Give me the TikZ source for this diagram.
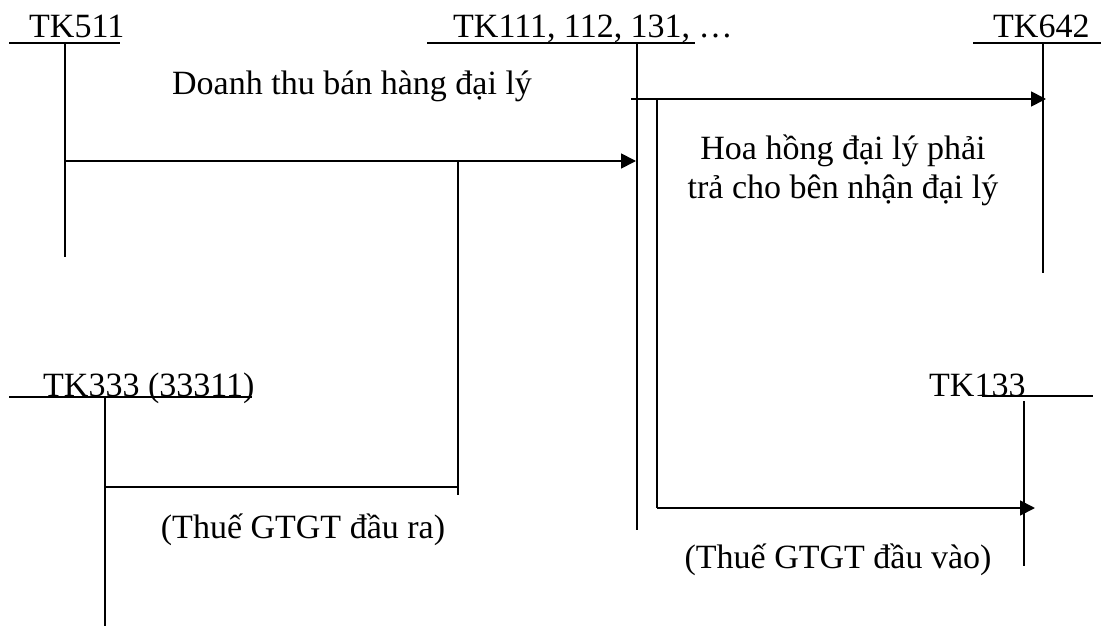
\documentclass[tikz,border=0pt]{standalone}
\usepackage{fontspec}
\setmainfont{Liberation Serif}
\usetikzlibrary{arrows.meta}
\begin{document}
\begin{tikzpicture}[x=1pt,y=-1pt,
  acct/.style={line width=1.8pt},
  flow/.style={line width=1.8pt},
  tipflow/.style={line width=1.8pt,-{Triangle[length=15pt,width=15pt]}},
  lbl/.style={inner sep=0pt,anchor=base west,font=\fontsize{34pt}{39pt}\selectfont},
  lblc/.style={inner sep=0pt,anchor=base,font=\fontsize{34pt}{39pt}\selectfont,align=center}]
\useasboundingbox (0,0) rectangle (1101,626);

% account headings
\node[lbl] (t511) at (29,38) {TK511};
\node[lbl] (t111) at (453,38) {TK111, 112, 131, …};
\node[lbl] (t642) at (993,38) {TK642};
\node[lbl] (t333) at (43,396) {TK333 (33311)};
\node[lbl] (t133) at (929,396) {TK133};

% T-account bars
\coordinate (u511a) at (9,43);   \coordinate (u511b) at (120,43);
\coordinate (u111a) at (427,43); \coordinate (u111b) at (695,43);
\coordinate (u642a) at (973,43); \coordinate (u642b) at (1101,43);
\coordinate (u333a) at (9,397);  \coordinate (u333b) at (252,397);
\coordinate (u133a) at (982,396);\coordinate (u133b) at (1093,396);
\draw[acct] (u511a) -- (u511b);
\draw[acct] (u111a) -- (u111b);
\draw[acct] (u642a) -- (u642b);
\draw[acct] (u333a) -- (u333b);
\draw[acct] (u133a) -- (u133b);

\coordinate (v511a) at (65,43);   \coordinate (v511b) at (65,257);
\coordinate (v111a) at (637,43);  \coordinate (v111b) at (637,530);
\coordinate (v642a) at (1043,43); \coordinate (v642b) at (1043,273);
\coordinate (v333a) at (105,397); \coordinate (v333b) at (105,626);
\coordinate (v133a) at (1024,401);\coordinate (v133b) at (1024,566);
\draw[acct] (v511a) -- (v511b);
\draw[acct] (v111a) -- (v111b);
\draw[acct] (v642a) -- (v642b);
\draw[acct] (v333a) -- (v333b);
\draw[acct] (v133a) -- (v133b);

% sales revenue and output VAT
\coordinate (s0) at (65,161);  \coordinate (s1) at (636,161);
\coordinate (b0) at (458,161); \coordinate (b1) at (458,495);
\coordinate (r0) at (105,487); \coordinate (r1) at (458,487);
\draw[tipflow] (s0) -- (s1);
\draw[flow] (b0) -- (b1);
\draw[flow] (r0) -- (r1);

% commission and input VAT
\coordinate (c0) at (631,99);  \coordinate (c1) at (1046,99);
\coordinate (d0) at (657,99);  \coordinate (d1) at (657,508);
\coordinate (e1) at (1035,508);
\draw[tipflow] (c0) -- (c1);
\draw[flow] (d0) -- (d1);
\draw[tipflow] (d1) -- (e1);

% descriptions
\node[lbl] (doanhthu) at (172,95) {Doanh thu bán hàng đại lý};
\node[lblc] (hoahong) at (843,198) {Hoa hồng đại lý phải\\trả cho bên nhận đại lý};
\node[lblc] (vatra) at (303,538) {(Thuế GTGT đầu ra)};
\node[lblc] (vatvao) at (838,568) {(Thuế GTGT đầu vào)};
\end{tikzpicture}
\end{document}
